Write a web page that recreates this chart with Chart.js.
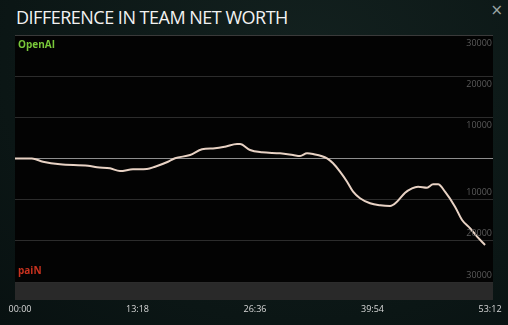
<!DOCTYPE html>
<html>
<head>
<meta charset="utf-8">
<script src="https://cdn.jsdelivr.net/npm/chart.js@4/dist/chart.umd.min.js"></script>
<style>
	html, body { margin: 0; padding: 0; background: #0d1918; }
	#wrap { position: relative; width: 508px; height: 325px; overflow: hidden;
		background: radial-gradient(ellipse at 60% 20%, #13211f 0%, #0b1615 70%, #081111 100%); }
	#title { position: absolute; left: 16px; top: 5px; color: #f2f2f2;
		font: 18px "Open Sans", sans-serif; letter-spacing: -0.5px; white-space: nowrap; }
	#close { position: absolute; right: 5px; top: 1px; color: #9aa5a4;
		font: 15px "DejaVu Sans", sans-serif; }
	canvas { position: absolute; left: 0; top: 0; }
</style>
</head>
<body>
<div id="wrap">
	<div id="title">DIFFERENCE IN TEAM NET WORTH</div>
	<div id="close">×</div>
	<canvas id="chartPreview" width="508" height="325"></canvas>
</div>
<script>
	'use strict';

	// game time in seconds
	const times = [0, 115, 190, 306, 496, 557, 645, 713, 801, 896, 951, 1039, 1087, 1189, 1270,
		1358, 1426, 1508, 1528, 1596, 1677, 1800, 1888, 1936, 1983, 2024, 2119, 2160, 2207, 2255,
		2296, 2343, 2411, 2479, 2547, 2594, 2649, 2696, 2737, 2798, 2839, 2873, 2920, 2988, 3036,
		3090, 3138, 3192];
	// net worth difference (OpenAI positive, paiN negative)
	const netWorthDiff = [0, 0, -780, -1410, -1750, -2140, -2380, -3040, -2620, -2550, -1990,
		-780, 50, 850, 2230, 2480, 2870, 3520, 3520, 2070, 1510, 1260, 850, 610, 1260, 1090, 50,
		-1160, -3200, -5630, -8060, -9660, -10880, -11370, -11540, -10490, -8310, -7240, -6850,
		-7090, -6270, -6270, -8060, -11700, -14930, -16950, -18990, -21010];
	const xTicks = [0, 798, 1596, 2394, 3192];
	const yTicks = [30000, 20000, 10000, -10000, -20000, -30000];
	const teamTop = 'OpenAI';
	const teamBottom = 'paiN';

	const fmtTime = function (s) {
		const m = Math.floor(s / 60);
		const sec = Math.round(s % 60);
		return String(m).padStart(2, '0') + ':' + String(sec).padStart(2, '0');
	};

	const panelPlugin = {
		id: 'panel',
		beforeDraw: function (chart) {
			const ctx = chart.ctx;
			const a = chart.chartArea;
			ctx.save();
			ctx.fillStyle = '#030303';
			ctx.fillRect(a.left, a.top, a.right - a.left, a.bottom - a.top);
			// gray strip under the plot
			ctx.fillStyle = '#292929';
			ctx.fillRect(a.left, a.bottom, a.right - a.left, 18);
			ctx.restore();
		},
		afterDraw: function (chart) {
			const ctx = chart.ctx;
			const a = chart.chartArea;
			const y = chart.scales.y;
			ctx.save();
			ctx.font = '9px "Open Sans", sans-serif';
			ctx.fillStyle = '#5c5c5c';
			ctx.textAlign = 'right';
			ctx.textBaseline = 'middle';
			yTicks.forEach(function (v) {
				const py = y.getPixelForValue(v);
				ctx.fillText(String(Math.abs(v)), a.right - 1, v > 0 ? py + 8 : py - 7);
			});
			ctx.textAlign = 'left';
			ctx.font = 'bold 10px "Open Sans", sans-serif';
			ctx.fillStyle = '#79c83a';
			ctx.fillText(teamTop, a.left + 3, a.top + 10);
			ctx.fillStyle = '#c9321f';
			ctx.fillText(teamBottom, a.left + 3, a.bottom - 11);
			ctx.restore();
		}
	};

	const handleInitialChart = function () {
		const canvas = document.getElementById('chartPreview');
		const points = times.map(function (t, i) { return { x: t, y: netWorthDiff[i] }; });

		new Chart(canvas.getContext('2d'), {
			type: 'line',
			data: {
				datasets: [
					{
						data: points,
						borderColor: '#e8d2c4',
						borderWidth: 2,
						pointRadius: 0,
						cubicInterpolationMode: 'monotone'
					}
				]
			},
			options: {
				responsive: false,
				animation: false,
				plugins: {
					legend: { display: false },
					tooltip: { enabled: false }
				},
				layout: {
					autoPadding: false,
					padding: { top: 35, left: 15, right: 15, bottom: 0 }
				},
				scales: {
					x: {
						type: 'linear',
						min: 0,
						max: 3246,
						afterBuildTicks: function (axis) {
							axis.ticks = xTicks.map(function (v) { return { value: v }; });
						},
						afterFit: function (axis) {
							axis.height = 43;
							axis.paddingLeft = 0;
							axis.paddingRight = 0;
						},
						grid: { display: false, drawTicks: false },
						border: { display: false },
						ticks: {
							color: '#d8d8d8',
							font: { family: 'Open Sans', size: 9 },
							padding: 22,
							labelOffset: 5,
							maxRotation: 0,
							autoSkip: false,
							callback: function (v) { return fmtTime(v); }
						}
					},
					y: {
						min: -30000,
						max: 30000,
						afterBuildTicks: function (axis) {
							axis.ticks = [-30000, -20000, -10000, 0, 10000, 20000, 30000].map(function (v) { return { value: v }; });
						},
						afterFit: function (axis) {
							axis.width = 0;
							axis.paddingTop = 0;
							axis.paddingBottom = 0;
						},
						grid: {
							drawTicks: false,
							lineWidth: 1,
							color: function (c) {
								if (c.tick && c.tick.value === 0) return '#8e8e8e';
								if (c.tick && c.tick.value === 30000) return '#3a3a3a';
								return '#2c2c2c';
							}
						},
						border: { display: false },
						ticks: { display: false }
					}
				}
			},
			plugins: [panelPlugin]
		});
	};

	handleInitialChart();
</script>
</body>
</html>
